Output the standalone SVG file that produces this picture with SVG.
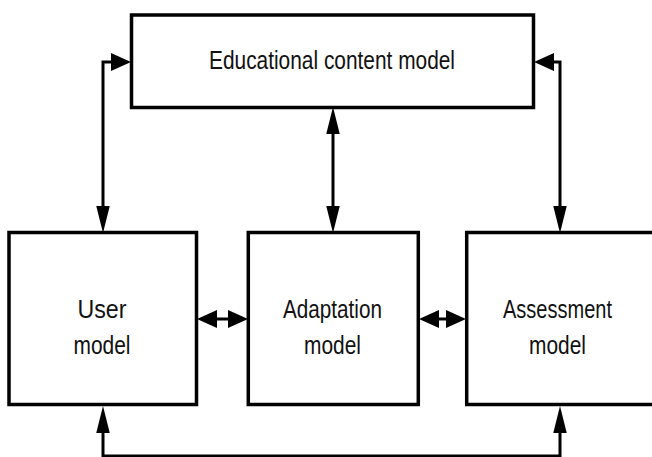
<svg xmlns="http://www.w3.org/2000/svg" width="652" height="457" viewBox="0 0 652 457">
  <style>
    .box { fill: #ffffff; stroke: #000000; stroke-width: 3.5; }
    .label { font-family: "Liberation Sans", Arial, sans-serif; font-size: 26px; fill: #111111; text-anchor: middle; }
    .link { fill: none; stroke: #000000; stroke-width: 3; stroke-linejoin: miter; }
    .hh { marker-start: url(#headH); marker-end: url(#headH); }
  </style>
  <defs>
    <!-- arrowheads: drawn from the line end outward, tip at the far side -->
    <marker id="headH" markerUnits="userSpaceOnUse" markerWidth="20" markerHeight="18" viewBox="0 0 19 17" refX="0" refY="8.5" orient="auto-start-reverse">
      <path d="M0,0 L19,8.5 L0,17 Z" fill="#000000"/>
    </marker>
    <marker id="headV" markerUnits="userSpaceOnUse" markerWidth="27" markerHeight="14" viewBox="0 0 26 13" refX="0" refY="6.5" orient="auto-start-reverse">
      <path d="M0,0 L26,6.5 L0,13 Z" fill="#000000"/>
    </marker>
  </defs>

  <g id="connectors">
    <!-- content model <-> user model -->
    <path class="link" d="M103,206 L103,62 L111,62" marker-start="url(#headV)" marker-end="url(#headH)"/>
    <!-- content model <-> adaptation model -->
    <path class="link" d="M333,134 L333,206" marker-start="url(#headV)" marker-end="url(#headV)"/>
    <!-- content model <-> assessment model -->
    <path class="link" d="M554,62 L560,62 L560,206" marker-start="url(#headH)" marker-end="url(#headV)"/>
    <!-- user model <-> assessment model (bottom loop) -->
    <path class="link" d="M103,433 L103,456 L560,456 L560,433" marker-start="url(#headV)" marker-end="url(#headV)"/>
    <!-- user model <-> adaptation model -->
    <path class="link hh" d="M217,319 L228,319"/>
    <!-- adaptation model <-> assessment model -->
    <path class="link hh" d="M439,319 L446,319"/>
  </g>

  <g id="content-model">
    <rect class="box" x="131.5" y="15" width="402" height="92.5"/>
    <text class="label" x="332" y="69" textLength="246" lengthAdjust="spacingAndGlyphs">Educational content model</text>
  </g>

  <g id="user-model">
    <rect class="box" x="9" y="232.5" width="187.5" height="172"/>
    <text class="label" x="102" y="318" textLength="49" lengthAdjust="spacingAndGlyphs">User</text>
    <text class="label" x="102" y="354" textLength="57" lengthAdjust="spacingAndGlyphs">model</text>
  </g>

  <g id="adaptation-model">
    <rect class="box" x="248.3" y="232.5" width="170" height="172"/>
    <text class="label" x="332.5" y="318" textLength="99" lengthAdjust="spacingAndGlyphs">Adaptation</text>
    <text class="label" x="332.5" y="354" textLength="57" lengthAdjust="spacingAndGlyphs">model</text>
  </g>

  <g id="assessment-model">
    <rect class="box" x="466.7" y="232.5" width="192" height="172"/>
    <text class="label" x="557.5" y="318" textLength="109" lengthAdjust="spacingAndGlyphs">Assessment</text>
    <text class="label" x="557.5" y="354" textLength="57" lengthAdjust="spacingAndGlyphs">model</text>
  </g>
</svg>
